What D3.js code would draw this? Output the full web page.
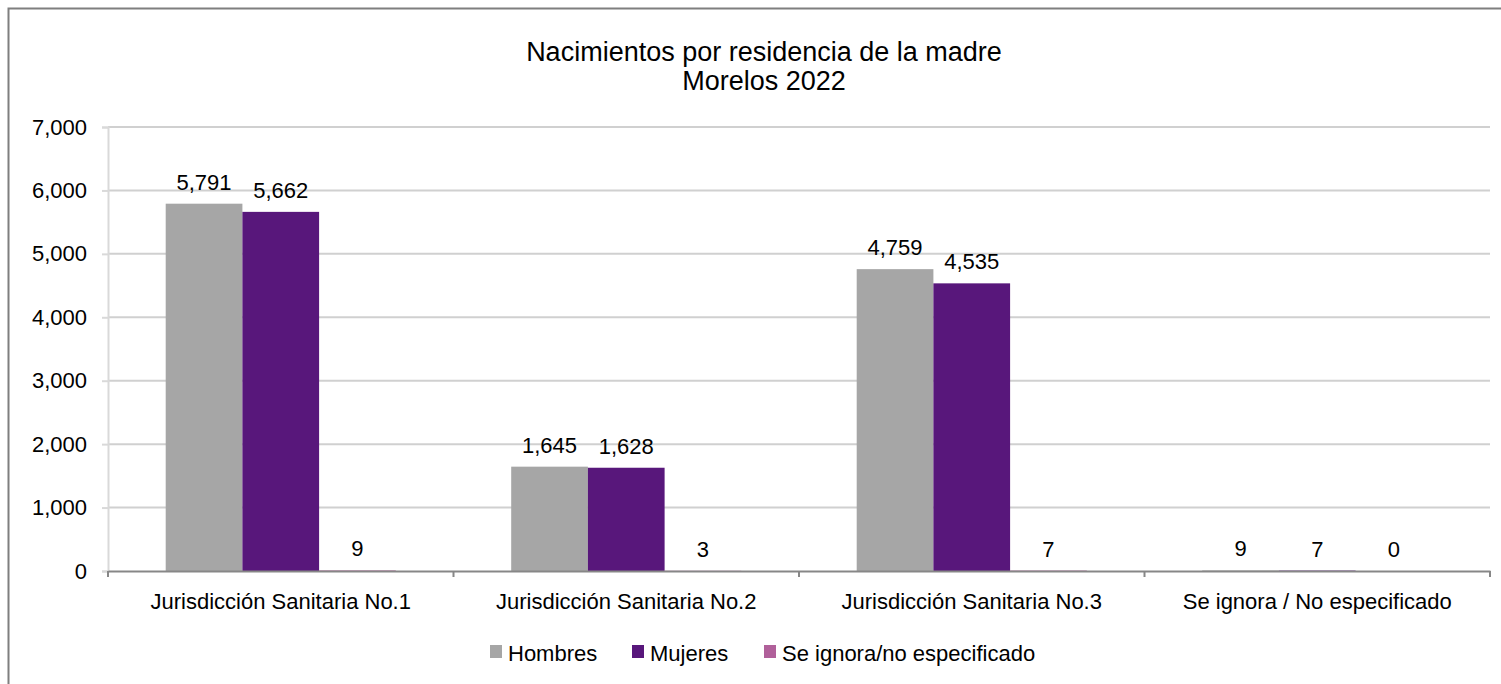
<!DOCTYPE html>
<html>
<head>
<meta charset="utf-8">
<script src="https://cdn.jsdelivr.net/npm/d3@7"></script>
<style>
  body { margin: 0; background: #fff; }
  text { font-family: "Liberation Sans", Arial, sans-serif; fill: #000; }
</style>
</head>
<body>
<div id="chart"></div>
<script>
// chart data
const categories = ["Jurisdicción Sanitaria No.1", "Jurisdicción Sanitaria No.2", "Jurisdicción Sanitaria No.3", "Se ignora / No especificado"];
const seriesNames = ["Hombres", "Mujeres", "Se ignora/no especificado"];
const hombres = [5791, 1645, 4759, 9];
const mujeres = [5662, 1628, 4535, 7];
const seIgnora = [9, 3, 7, 0];
const yTicks = [0, 1000, 2000, 3000, 4000, 5000, 6000, 7000];
const colors = ["#a6a6a6", "#58177b", "#b0609a"];

const width = 1501, height = 684;
const margin = { left: 108, right: 11, top: 127, bottom: 113 };

const svg = d3.select("#chart").append("svg")
    .attr("width", width)
    .attr("height", height);

// outer frame (runs off the right and bottom edges)
svg.append("rect")
    .attr("x", 8.5).attr("y", 8.5)
    .attr("width", width).attr("height", height)
    .attr("fill", "none")
    .attr("stroke", "#7f7f7f")
    .attr("stroke-width", 2);

// title
svg.append("text").attr("x", 764).attr("y", 61)
    .attr("text-anchor", "middle").style("font-size", "27px")
    .text("Nacimientos por residencia de la madre");
svg.append("text").attr("x", 764).attr("y", 90)
    .attr("text-anchor", "middle").style("font-size", "27px")
    .text("Morelos 2022");

const x0 = d3.scaleBand()
    .domain(categories)
    .range([margin.left, width - margin.right])
    .paddingInner(0).paddingOuter(0);

const y = d3.scaleLinear()
    .domain([0, 7000])
    .range([height - margin.bottom, margin.top]);

const groupPad = 0.167; // each side of the bar cluster, as a fraction of the category
const x1 = d3.scaleBand()
    .domain(d3.range(seriesNames.length))
    .range([x0.bandwidth() * groupPad, x0.bandwidth() * (1 - groupPad)])
    .padding(0);

// gridlines
svg.append("g").selectAll("line")
    .data(yTicks.filter(d => d > 0))
    .enter().append("line")
    .attr("x1", margin.left).attr("x2", width - margin.right)
    .attr("y1", d => y(d)).attr("y2", d => y(d))
    .attr("stroke", "#d0d0d0").attr("stroke-width", 2);

// y axis
const yAxis = svg.append("g")
    .attr("transform", `translate(${margin.left},0)`)
    .call(d3.axisLeft(y).tickValues(yTicks).tickFormat(d3.format(",")).tickSize(6).tickPadding(15));
yAxis.select(".domain").attr("stroke", "#d9d9d9").attr("stroke-width", 2);
yAxis.selectAll(".tick line").attr("stroke", "#d9d9d9").attr("stroke-width", 2);
yAxis.selectAll("text").style("font-size", "22px").attr("fill", "#000");

const seriesData = [hombres, mujeres, seIgnora];

// bars
const groups = svg.append("g").selectAll("g")
    .data(categories)
    .enter().append("g")
    .attr("transform", d => `translate(${x0(d)},0)`);

groups.selectAll("rect")
    .data((c, i) => seriesData.map((s, k) => ({ k: k, v: s[i] })))
    .enter().append("rect")
    .attr("x", d => x1(d.k))
    .attr("width", x1.bandwidth())
    .attr("y", d => y(d.v))
    .attr("height", d => y(0) - y(d.v))
    .attr("fill", d => colors[d.k]);

groups.selectAll("text.val")
    .data((c, i) => seriesData.map((s, k) => ({ k: k, v: s[i] })))
    .enter().append("text")
    .attr("class", "val")
    .attr("x", d => x1(d.k) + x1.bandwidth() / 2)
    .attr("y", d => y(d.v) - 14)
    .attr("text-anchor", "middle")
    .style("font-size", "22px")
    .text(d => d3.format(",")(d.v));

// x axis
const xAxis = svg.append("g")
    .attr("transform", `translate(0,${y(0)})`)
    .call(d3.axisBottom(x0).tickSize(0));
xAxis.select(".domain").attr("stroke", "#878787").attr("stroke-width", 2);
xAxis.selectAll("text").style("font-size", "22px").attr("fill", "#000")
    .attr("y", 38).attr("dy", 0);
// boundary ticks between categories
svg.append("g").selectAll("line")
    .data(categories.map(c => x0(c)).concat([width - margin.right]))
    .enter().append("line")
    .attr("x1", d => d).attr("x2", d => d)
    .attr("y1", y(0)).attr("y2", y(0) + 6)
    .attr("stroke", "#878787").attr("stroke-width", 2);

// legend
const legendX = [490, 632, 764];
const legend = svg.append("g").selectAll("g")
    .data(seriesNames)
    .enter().append("g")
    .attr("transform", (d, i) => `translate(${legendX[i]},645)`);
legend.append("rect")
    .attr("width", 12).attr("height", 13)
    .attr("fill", (d, i) => colors[i]);
legend.append("text")
    .attr("x", 18).attr("y", 16)
    .style("font-size", "22px")
    .text(d => d);
</script>
</body>
</html>
